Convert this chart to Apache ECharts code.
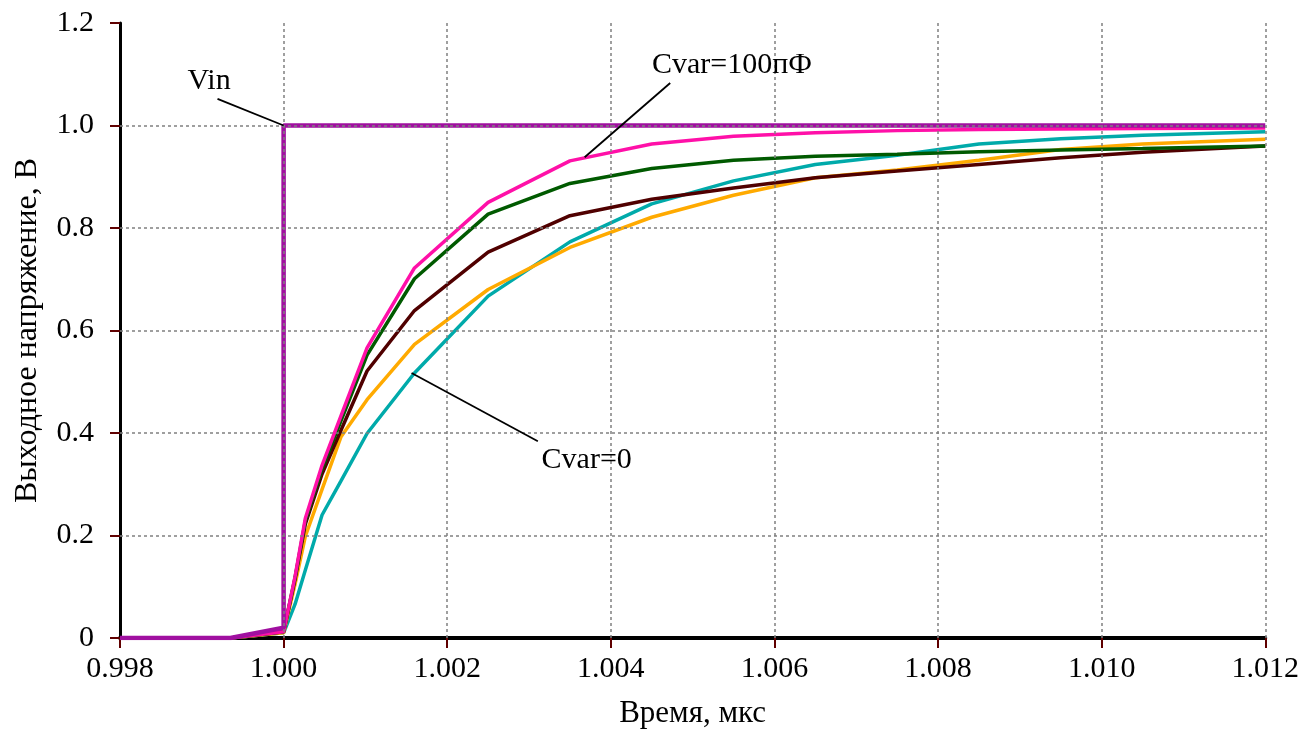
<!DOCTYPE html>
<html>
<head>
<meta charset="utf-8">
<title>Выходное напряжение</title>
<script src="https://cdn.jsdelivr.net/npm/echarts@6/dist/echarts.min.js"></script>
<style>
    html, body { margin: 0; padding: 0; background: #fff; }
    #chart { width: 1302px; height: 734px; }
</style>
</head>
<body>
<div id="chart"></div>
<script>
"use strict";
/* данные */
var time = [0.998, 0.99935, 1.0000, 1.00014, 1.000265, 1.00047, 1.0007, 1.00102, 1.0016,
    1.0025, 1.0035, 1.0045, 1.0055, 1.0065, 1.0075, 1.0085, 1.0095, 1.0105, 1.012];
var cvar100 = [0, 0, 0.012, 0.12, 0.233, 0.337, 0.433, 0.566, 0.722,
    0.850, 0.931, 0.964, 0.979, 0.986, 0.990, 0.992, 0.993, 0.994, 0.995];
var cvarGreen = [0, 0, 0.012, 0.118, 0.228, 0.330, 0.423, 0.552, 0.701,
    0.827, 0.887, 0.916, 0.932, 0.940, 0.944, 0.949, 0.952, 0.955, 0.960];
var cvarBrown = [0, 0, 0.012, 0.115, 0.222, 0.320, 0.405, 0.521, 0.639,
    0.753, 0.824, 0.856, 0.878, 0.898, 0.911, 0.924, 0.937, 0.948, 0.960];
var cvarOrange = [0, 0, 0.010, 0.105, 0.198, 0.290, 0.392, 0.465, 0.573,
    0.680, 0.762, 0.821, 0.864, 0.898, 0.913, 0.932, 0.953, 0.964, 0.973];
var cvar0 = [0, 0, 0.010, 0.066, 0.132, 0.240, 0.306, 0.399, 0.517,
    0.667, 0.773, 0.847, 0.892, 0.924, 0.942, 0.964, 0.974, 0.981, 0.988];
var vinTime = [0.998, 0.99935, 1.0000, 1.0000, 1.012];
var vinValue = [0, 0, 0.02, 1.0, 1.0];

var xTicks = [0.998, 1.000, 1.002, 1.004, 1.006, 1.008, 1.010, 1.012];
var yTicks = [0, 0.2, 0.4, 0.6, 0.8, 1.0, 1.2];

/* подписи и выноски (координаты в единицах осей) */
var notes = ["Vin", "Cvar=100пФ", "Cvar=0"];
var notePos = [[0.999089, 1.087], [1.00548, 1.118], [1.003705, 0.348]];
var leaders = [
    [[0.999192, 1.052], [1.0000, 1.0]],
    [[1.004726, 1.083], [1.00368, 0.938]],
    [[1.003108, 0.384], [1.001564, 0.517]]
];

function zip(xs, ys) {
    return xs.map(function (x, i) { return [x, ys[i]]; });
}

var font = "'Liberation Serif', 'Times New Roman', serif";
var xMin = xTicks[0], xMax = xTicks[xTicks.length - 1];
var yMin = yTicks[0], yMax = yTicks[yTicks.length - 1];

var chart = echarts.init(document.getElementById("chart"));

var series = [
    { name: "Cvar=0", data: zip(time, cvar0), color: "#00aaaa" },
    { name: "orange", data: zip(time, cvarOrange), color: "#ffaa00" },
    { name: "brown", data: zip(time, cvarBrown), color: "#500000" },
    { name: "green", data: zip(time, cvarGreen), color: "#005a00" },
    { name: "Cvar=100пФ", data: zip(time, cvar100), color: "#ff10a8" },
    { name: "Vin", data: zip(vinTime, vinValue), color: "#a010a0", width: 4.5 }
].map(function (s) {
    return {
        type: "line",
        name: s.name,
        data: s.data,
        showSymbol: false,
        silent: true,
        animation: false,
        lineStyle: { color: s.color, width: s.width || 3.5 },
        z: 2
    };
});

leaders.forEach(function (l) {
    series.push({
        type: "line",
        data: l,
        showSymbol: false,
        silent: true,
        animation: false,
        lineStyle: { color: "#000", width: 1.8 },
        z: 4
    });
});

series.push({
    type: "scatter",
    data: notePos.map(function (p, i) { return { value: p, name: notes[i] }; }),
    symbolSize: 0,
    silent: true,
    animation: false,
    label: {
        show: true,
        position: "inside",
        formatter: function (p) { return p.name; },
        fontFamily: font,
        fontSize: 30,
        color: "#000",
        textBorderWidth: 0,
        opacity: 1
    },
    z: 5
});

var option = {
    backgroundColor: "#fff",
    grid: { left: 120, right: 31, top: 23, bottom: 93 },
    xAxis: [{
        type: "value",
        min: xMin, max: xMax, interval: 0.002,
        name: "Время, мкс",
        nameLocation: "middle",
        nameGap: 60,
        nameTextStyle: { fontFamily: font, fontSize: 31, color: "#000" },
        axisLine: { lineStyle: { color: "#000", width: 4 } },
        axisTick: { length: 10, lineStyle: { color: "#600000", width: 2 } },
        axisLabel: {
            fontFamily: font, fontSize: 30, color: "#000", margin: 16,
            formatter: function (v) { return v.toFixed(3); }
        },
        splitLine: { show: false }
    }, {
        type: "value",
        min: xMin, max: xMax, interval: 0.002,
        axisLine: { show: false }, axisTick: { show: false }, axisLabel: { show: false },
        splitLine: { show: true, showMinLine: false, lineStyle: { color: "#808080", type: [3, 3], width: 1.5 } },
        z: 3
    }],
    yAxis: [{
        type: "value",
        min: yMin, max: yMax, interval: 0.2,
        name: "Выходное напряжение, В",
        nameLocation: "middle",
        nameGap: 76,
        nameTextStyle: { fontFamily: font, fontSize: 32, color: "#000" },
        axisLine: { show: true, lineStyle: { color: "#000", width: 3 } },
        axisTick: { show: true, length: 10, lineStyle: { color: "#600000", width: 2 } },
        axisLabel: {
            fontFamily: font, fontSize: 30, color: "#000", margin: 26,
            formatter: function (v) { return v === 0 ? "0" : v.toFixed(1); }
        },
        splitLine: { show: false }
    }, {
        type: "value",
        min: yMin, max: yMax, interval: 0.2,
        axisLine: { show: false }, axisTick: { show: false }, axisLabel: { show: false },
        splitLine: { show: true, showMinLine: false, showMaxLine: false, lineStyle: { color: "#808080", type: [3, 3], width: 1.5 } },
        z: 3
    }],
    series: series
};
chart.setOption(option);
</script>
</body>
</html>
